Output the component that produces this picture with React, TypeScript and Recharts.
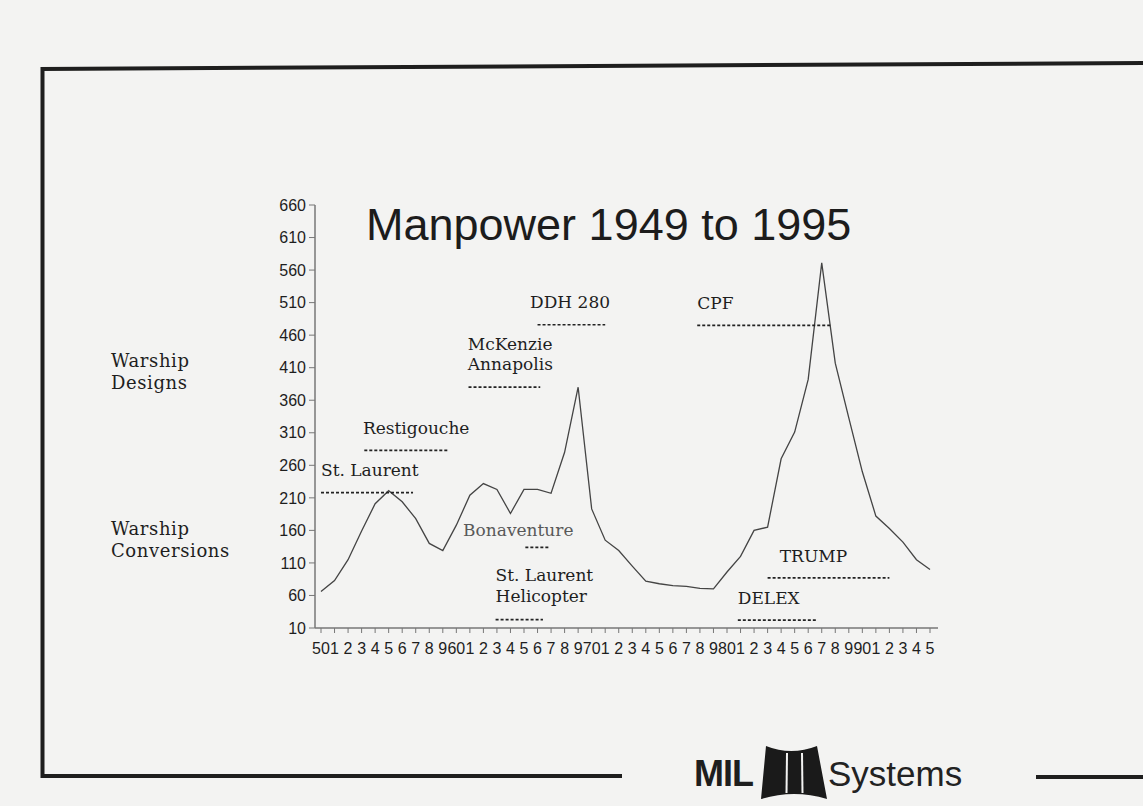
import React from 'react';
import { LineChart, Line, XAxis, YAxis, ReferenceLine, ReferenceDot } from 'recharts';

// ---------- data ----------
const YEARS = [
  1950, 1951, 1952, 1953, 1954, 1955, 1956, 1957, 1958, 1959,
  1960, 1961, 1962, 1963, 1964, 1965, 1966, 1967, 1968, 1969,
  1970, 1971, 1972, 1973, 1974, 1975, 1976, 1977, 1978, 1979,
  1980, 1981, 1982, 1983, 1984, 1985, 1986, 1987, 1988, 1989,
  1990, 1991, 1992, 1993, 1994, 1995,
];

const YEAR_LABELS = [
  '50', '1', '2', '3', '4', '5', '6', '7', '8', '9',
  '60', '1', '2', '3', '4', '5', '6', '7', '8', '9',
  '70', '1', '2', '3', '4', '5', '6', '7', '8', '9',
  '80', '1', '2', '3', '4', '5', '6', '7', '8', '9',
  '90', '1', '2', '3', '4', '5',
];

const MANPOWER = [
  66, 83, 115, 159, 201, 221, 204, 178, 140, 129,
  168, 214, 232, 223, 186, 223, 223, 217, 280, 380,
  193, 145, 129, 105, 82, 78, 75, 74, 71, 70,
  96, 120, 160, 165, 270, 311, 392, 571, 417, 333,
  250, 182, 163, 142, 115, 100,
];

const Y_TICKS = [10, 60, 110, 160, 210, 260, 310, 360, 410, 460, 510, 560, 610, 660];

// Programme annotations: dashed span (years) at a level, and label anchor in data coords
const PROGRAM_NAMES = [
  ['St. Laurent'],
  ['Restigouche'],
  ['McKenzie', 'Annapolis'],
  ['DDH 280'],
  ['CPF'],
  ['Bonaventure'],
  ['St. Laurent', 'Helicopter'],
  ['TRUMP'],
  ['DELEX'],
];
const PROGRAM_START = [1950.0, 1953.2, 1960.9, 1966.0, 1977.8, 1965.1, 1962.9, 1983.0, 1980.8];
const PROGRAM_END = [1956.8, 1959.4, 1966.2, 1971.0, 1987.7, 1966.9, 1966.4, 1992.0, 1986.6];
const PROGRAM_LEVEL = [218, 283, 380, 476, 475, 134, 23, 87, 22];
const LABEL_YEAR = [1950.0, 1953.1, 1960.85, 1965.45, 1977.8, 1960.5, 1962.9, 1983.9, 1980.8];
const LABEL_LEVEL = [244, 308, 437, 501, 500, 151, 82, 111, 47];

const SIDE_LABELS = [
  ['Warship', 'Designs'],
  ['Warship', 'Conversions'],
];

const data = YEARS.map((year, i) => ({ year, manpower: MANPOWER[i] }));

// ---------- styles ----------
const SERIF = '"DejaVu Serif", "Liberation Serif", serif';
const SANS = '"Liberation Sans", Arial, Helvetica, sans-serif';
const INK = '#1e1e1e';
const PAPER = '#f3f3f2';

function AnnText(props: any) {
  const { viewBox, lines, color, lineHeight } = props;
  if (!viewBox) return null;
  const x = viewBox.x + (viewBox.width || 0) / 2;
  const y = viewBox.y + (viewBox.height || 0) / 2;
  return (
    <g>
      {lines.map((l: string, i: number) => (
        <text
          key={i}
          x={x}
          y={y + i * lineHeight}
          fontFamily={SERIF}
          fontSize={17}
          fill={color}
          textAnchor="start"
        >
          {l}
        </text>
      ))}
    </g>
  );
}

export default function App() {
  return (
    <div
      style={{
        position: 'absolute',
        left: 0,
        top: 0,
        width: 1143,
        height: 806,
        background: PAPER,
        overflow: 'hidden',
      }}
    >
      <LineChart
        width={1143}
        height={806}
        data={data}
        margin={{ top: 205, right: 205, bottom: 148, left: 265 }}
      >
        <XAxis
          dataKey="year"
          type="number"
          domain={[1950, 1995]}
          ticks={YEARS}
          interval={0}
          padding={{ left: 6, right: 8 }}
          height={30}
          tickFormatter={(v: number) => YEAR_LABELS[YEARS.indexOf(v)]}
          axisLine={{ stroke: '#777', strokeWidth: 1.5 }}
          tickLine={{ stroke: '#777', strokeWidth: 1 }}
          tickSize={5}
          tickMargin={10}
          tick={{ fontSize: 16, fill: INK, fontFamily: SANS }}
        />
        <YAxis
          type="number"
          domain={[10, 660]}
          ticks={Y_TICKS}
          interval={0}
          width={50}
          tickSize={6}
          tickMargin={3}
          axisLine={{ stroke: '#777', strokeWidth: 1.5 }}
          tickLine={{ stroke: '#777', strokeWidth: 1 }}
          tick={{ fontSize: 16, fill: INK, fontFamily: SANS }}
        />
        <Line
          type="linear"
          dataKey="manpower"
          stroke="#444"
          strokeWidth={1.3}
          dot={false}
          activeDot={false}
          isAnimationActive={false}
        />
        {PROGRAM_NAMES.map((_, i) => (
          <ReferenceLine
            key={'seg' + i}
            segment={[
              { x: PROGRAM_START[i], y: PROGRAM_LEVEL[i] },
              { x: PROGRAM_END[i], y: PROGRAM_LEVEL[i] },
            ]}
            stroke="#222"
            strokeWidth={1.7}
            strokeDasharray="3 2"
            ifOverflow="visible"
          />
        ))}
        {PROGRAM_NAMES.map((names, i) => (
          <ReferenceDot
            key={'lbl' + i}
            x={LABEL_YEAR[i]}
            y={LABEL_LEVEL[i]}
            r={0}
            fill="none"
            stroke="none"
            ifOverflow="visible"
            label={(p: any) => (
              <AnnText
                viewBox={p.viewBox}
                lines={names}
                color={names[0] === 'Bonaventure' ? '#595959' : INK}
                lineHeight={names[1] === 'Helicopter' ? 21 : 20}
              />
            )}
          />
        ))}
      </LineChart>

      <svg
        width={1143}
        height={806}
        style={{ position: 'absolute', left: 0, top: 0, pointerEvents: 'none' }}
      >
        {/* frame */}
        <line x1={41} y1={69} x2={1143} y2={63} stroke="#1e1e1e" strokeWidth={4} />
        <line x1={42.5} y1={67} x2={42.5} y2={778} stroke="#1e1e1e" strokeWidth={4} />
        <line x1={41} y1={776} x2={622} y2={776} stroke="#1e1e1e" strokeWidth={4} />
        <line x1={1036} y1={777} x2={1143} y2={777} stroke="#1e1e1e" strokeWidth={4} />

        {/* title */}
        <text x={366} y={240} fontFamily={SANS} fontSize={45} fill="#1c1c1c">
          Manpower 1949 to 1995
        </text>

        {/* side labels */}
        {SIDE_LABELS[0].map((t, i) => (
          <text key={'d' + i} x={111} y={367 + i * 22} fontFamily={SERIF} fontSize={18} fill={INK} letterSpacing={0.6}>
            {t}
          </text>
        ))}
        {SIDE_LABELS[1].map((t, i) => (
          <text key={'c' + i} x={111} y={535 + i * 22} fontFamily={SERIF} fontSize={18} fill={INK} letterSpacing={0.6}>
            {t}
          </text>
        ))}

        {/* logo */}
        <text x={694} y={786} fontFamily={SANS} fontSize={36} fontWeight="bold" fill="#1e1e1e" letterSpacing={-1}>
          MIL
        </text>
        <path d="M 766 746 Q 791 756 817 746 L 827 799 Q 794 789 761 799 Z" fill="#1a1a1a" />
        <line x1={787} y1={753} x2={786.5} y2={793} stroke={PAPER} strokeWidth={2} />
        <line x1={802} y1={753} x2={802.5} y2={793} stroke={PAPER} strokeWidth={2} />
        <text x={828} y={786} fontFamily={SANS} fontSize={35} fill="#222">
          Systems
        </text>
      </svg>
    </div>
  );
}
